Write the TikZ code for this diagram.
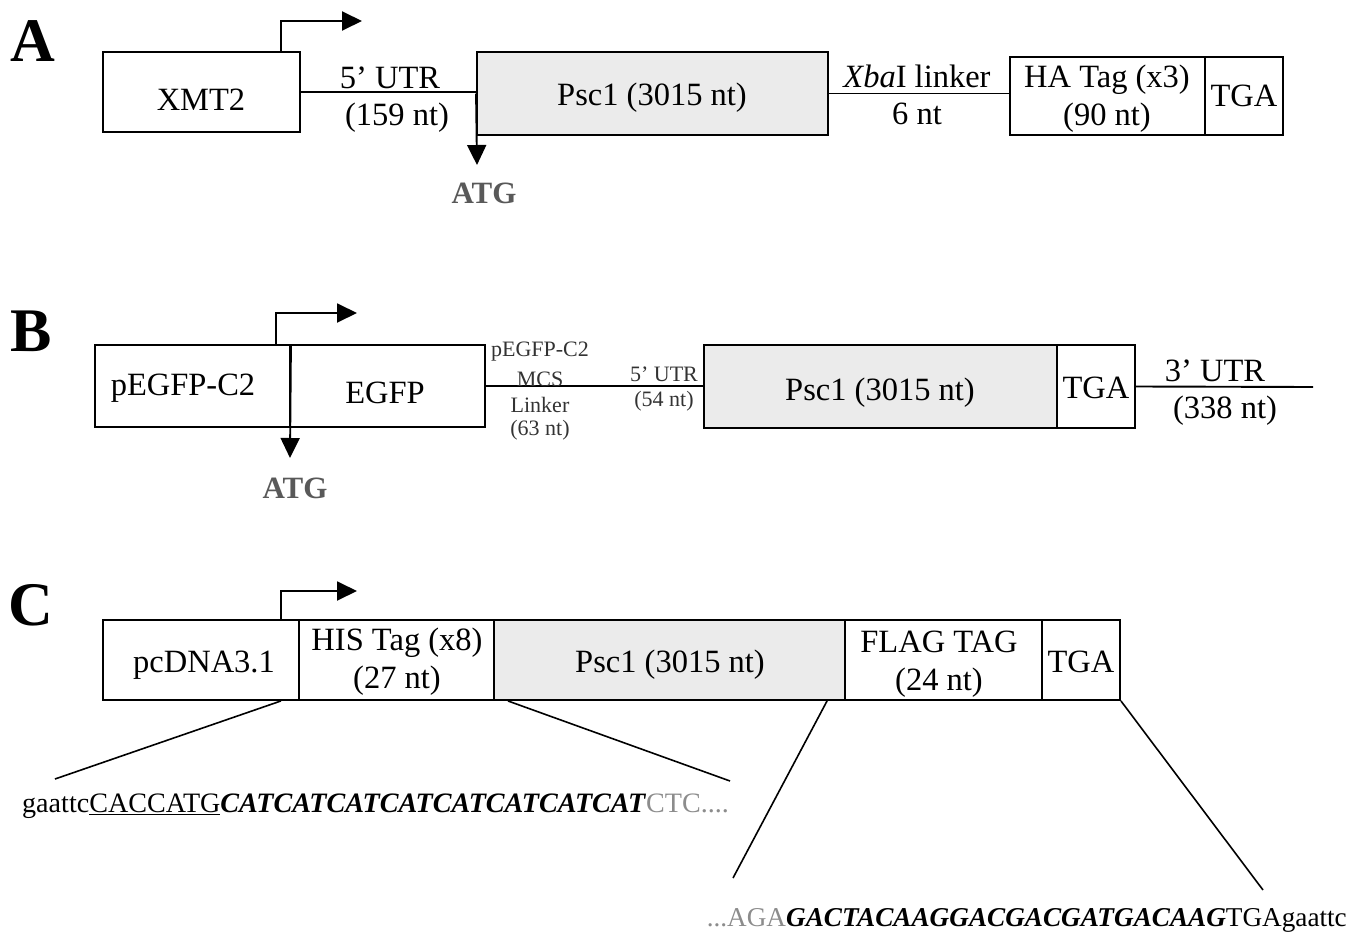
\documentclass[tikz,border=0pt]{standalone}
\usepackage{fontspec}
\setmainfont{Liberation Serif}
\usetikzlibrary{arrows.meta}
\begin{document}
\begin{tikzpicture}[x=1pt,y=-1pt,
 box/.style={draw, line width=1.9pt, inner sep=0pt},
 gbox/.style={box, fill=black!8},
 lbl/.style={inner sep=0pt, align=center, font=\fontsize{32.5}{38}\selectfont},
 sml/.style={inner sep=0pt, font=\fontsize{22}{24}\selectfont, text=black!80},
 panel/.style={inner sep=0pt, font=\fontsize{62}{62}\selectfont\bfseries},
 atg/.style={inner sep=0pt, font=\fontsize{31}{31}\selectfont\bfseries, text=black!65},
 ln/.style={line width=1.9pt},
 zl/.style={line width=1.6pt},
 arr/.style={line width=1.9pt, -{Triangle[length=20pt,width=19pt]}},
 seq/.style={inner sep=0pt, font=\fontsize{28.1}{30}\selectfont},
 seqb/.style={inner sep=0pt, font=\fontsize{27.2}{30}\selectfont}
]
\useasboundingbox (0,0) rectangle (1347,934);

% ---------- Panel A ----------
\node[panel] (la) at (33,41) {A};
\node[box, minimum width=197, minimum height=80] (xmt) at (201.5,92) {};
\node[gbox, minimum width=351, minimum height=83] (pscA) at (652.5,93.5) {};
\node[box, minimum width=195, minimum height=78] (ha) at (1107.5,96) {};
\node[box, minimum width=78, minimum height=78] (tgaA) at (1244,96) {};
\node[lbl] (xmtT) at (201,100) {XMT2};
\node[lbl] (pscAT) at (652,98) {Psc1 (3015 nt)};
\node[lbl] (haT) at (1107,98.5) {HA Tag (x3)\\(90 nt)};
\node[lbl] (tgaAT) at (1244,96) {TGA};
\draw[ln] (xmt.east) -- (xmt.east -| pscA.west);
\node[lbl] (utrA) at (390,78) {5’ UTR};
\node[lbl] (ntA) at (397,118) {(159 nt)};
\coordinate (atgA) at (477,165);
\draw[arr] (pscA.west) -- (atgA);
\node[atg] (atgAt) at (484,193) {ATG};
\coordinate (pA) at (362,21);
\draw[arr] ([xshift=-20pt]xmt.north east) |- (pA);
\draw[ln] (pscA.east) -- (pscA.east -| ha.west);
\node[lbl] (xba) at (917,76) {\textit{Xba}I linker};
\node[lbl] (six) at (917,114) {6 nt};

% ---------- Panel B ----------
\node[panel] (lb) at (31,331) {B};
\node[box, minimum width=195, minimum height=82] (pegfp) at (192.5,386) {};
\node[box, minimum width=195, minimum height=82] (egfp) at (387.5,386) {};
\node[gbox, minimum width=353, minimum height=83] (pscB) at (880.5,386.5) {};
\node[box, minimum width=78, minimum height=83] (tgaB) at (1096,386.5) {};
\node[lbl] (pegfpT) at (183,388) {pEGFP-C2};
\node[lbl] (egfpT) at (385,393) {EGFP};
\node[lbl] (pscBT) at (880,393) {Psc1 (3015 nt)};
\node[lbl] (tgaBT) at (1096,388) {TGA};
\draw[ln] (egfp.east) -- (egfp.east -| pscB.west);
\coordinate (utr3) at (1313,387);
\draw[ln] (tgaB.east) -- (utr3);
\node[sml] (m1) at (540,352) {pEGFP-C2};
\node[sml] (m2) at (540,379) {MCS};
\node[sml] (m3) at (540,405) {Linker};
\node[sml] (m4) at (540,430) {(63 nt)};
\node[sml] (u1) at (664,374) {5’ UTR};
\node[sml] (u2) at (664,401) {(54 nt)};
\node[lbl] (u3) at (1215,371) {3’ UTR};
\node[lbl] (u4) at (1225,411) {(338 nt)};
\coordinate (pB) at (357,313);
\draw[arr] ([xshift=-15pt]pegfp.north east) |- (pB);
\coordinate (atgB) at (290,458);
\draw[arr] (pegfp.north east) -- (atgB);
\node[atg] (atgBt) at (295,488) {ATG};

% ---------- Panel C ----------
\node[panel] (lc) at (31,605) {C};
\node[box, minimum width=196, minimum height=80] (pcdna) at (201,660) {};
\node[box, minimum width=195, minimum height=80] (his) at (396.5,660) {};
\node[gbox, minimum width=351, minimum height=80] (pscC) at (669.5,660) {};
\node[box, minimum width=197, minimum height=80] (flag) at (943.5,660) {};
\node[box, minimum width=78, minimum height=80] (tgaC) at (1081,660) {};
\node[lbl] (pcdnaT) at (204,665) {pcDNA3.1};
\node[lbl] (hisT) at (397,662) {HIS Tag (x8)\\(27 nt)};
\node[lbl] (pscCT) at (670,665) {Psc1 (3015 nt)};
\node[lbl] (flagT) at (939,664) {FLAG TAG\\(24 nt)};
\node[lbl] (tgaCT) at (1081,662) {TGA};
\coordinate (pC) at (357,591);
\draw[arr] ([xshift=-19pt]pcdna.north east) |- (pC);
\coordinate (z1) at (55,779);
\coordinate (z2) at (730,781);
\coordinate (z3) at (733,878);
\coordinate (z4) at (1263,890);
\draw[zl] ([xshift=-19pt]pcdna.south east) -- (z1);
\draw[zl] ([xshift=13pt]his.south east) -- (z2);
\draw[zl] ([xshift=-17pt]flag.south west) -- (z3);
\draw[zl] (tgaC.south east) -- (z4);
\node[seq, anchor=west] (s1) at (22,806) {gaattc\underline{CACCATG}\textbf{\textit{CATCATCATCATCATCATCATCAT}}\textcolor{black!45}{CTC....}};
\node[seqb, anchor=east] (s2) at (1347,920) {\textcolor{black!45}{...AGA}\textbf{\textit{GACTACAAGGACGACGATGACAAG}}TGAgaattc};
\end{tikzpicture}
\end{document}
